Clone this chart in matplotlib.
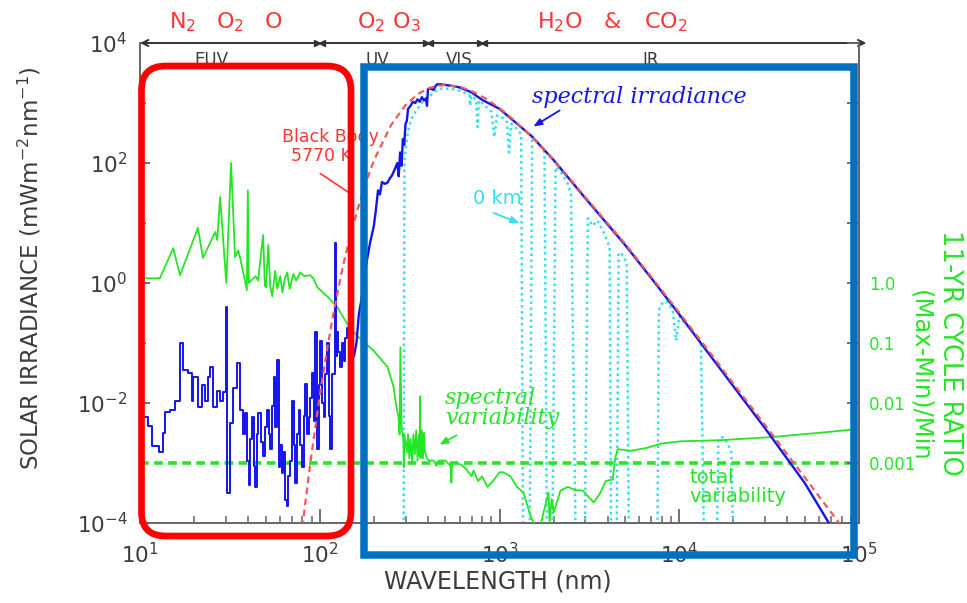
import matplotlib
matplotlib.use("Agg")
import matplotlib.pyplot as plt
from matplotlib.patches import FancyBboxPatch, Rectangle
from matplotlib.transforms import IdentityTransform
from matplotlib.ticker import FixedLocator, NullLocator, NullFormatter

W, H = 967, 603

# ---- data ------------------------------------------------------------------
# blue: measured spectral irradiance (mW m-2 nm-1), EUV part drawn as steps
euv_wl = [
    10.0, 10.4, 11.1, 11.6, 12.7, 13.5, 13.8, 14.7, 15.7, 16.7,
    17.4, 18.6, 19.4, 19.8, 21.1, 22.1, 23.0, 24.0, 24.5, 25.6,
    26.7, 27.9, 29.1, 30.1, 30.5, 31.7, 33.1, 34.6, 36.1, 37.3,
    38.5, 39.3, 40.2, 41.0, 41.9, 42.8, 43.7, 44.6, 45.6, 47.0,
    48.6, 49.7, 50.8, 52.0, 53.0, 54.1, 55.3, 56.5, 57.7, 59.0,
    60.2, 61.5, 62.8, 64.3, 65.6, 67.0, 68.5, 70.0, 71.5, 73.0,
    74.6, 76.2, 77.9, 79.6, 81.3, 83.0, 84.8, 86.7, 88.5, 90.4,
    92.4, 94.4, 96.4, 98.5, 100.7, 103, 105, 107, 110, 112,
    114, 117, 121, 122.5, 124.7, 127, 130, 133, 136, 139,
    142, 145, 148]
euv_irr = [
    0.0059, 0.0059, 0.0041, 0.0019, 0.0015, 0.0032, 0.0072, 0.0076, 0.011, 0.10,
    0.035, 0.032, 0.011, 0.027, 0.0087, 0.020, 0.011, 0.027, 0.040, 0.0087,
    0.016, 0.011, 0.015, 0.40, 0.00032, 0.0046, 0.018, 0.046, 0.0076, 0.0030,
    0.0068, 0.0011, 0.00043, 0.0025, 0.0059, 0.0009, 0.00040, 0.0030, 0.0068, 0.0022,
    0.0013, 0.0040, 0.0076, 0.0030, 0.0017, 0.0090, 0.027, 0.0040, 0.052, 0.00087,
    0.0020, 0.00068, 0.0015, 0.00024, 0.00019, 0.0006, 0.0011, 0.011, 0.0020, 0.00046,
    0.0030, 0.0076, 0.0020, 0.00087, 0.0060, 0.021, 0.0030, 0.0059, 0.012, 0.032,
    0.0050, 0.15, 0.0017, 0.020, 0.11, 0.010, 0.0059, 0.030, 0.10, 0.0060,
    0.0017, 0.030, 4.7, 0.06, 0.15, 0.07, 0.04, 0.10, 0.05, 0.12,
    0.18, 0.07, 0.10]

uvir_wl = [
    148, 155, 160, 165, 170, 180, 190, 200, 205, 211,
    216, 222, 230, 238, 245, 253, 262, 270, 275, 280,
    285, 290, 295, 300, 305, 310, 320, 330, 340, 350,
    360, 370, 380, 390, 395, 400, 410, 420, 430, 440,
    450, 470, 500, 530, 560, 600, 650, 700, 800, 1000,
    1500, 2000, 3000, 5000, 7000, 10000, 20000, 30000, 50000, 68000,
    80000]
uvir_irr = [
    0.10, 0.06, 0.10, 0.3, 0.5, 1.8, 4.5, 9, 16, 35,
    30, 48, 45, 47, 55, 63, 80, 100, 60, 150,
    90, 250, 200, 450, 500, 800, 900, 1050, 1000, 1150,
    1050, 1250, 1100, 1200, 900, 1700, 1750, 1700, 1650, 1900,
    2050, 2050, 2000, 1950, 1900, 1820, 1650, 1500, 1130, 800,
    285, 112, 26, 4.3, 1.2, 0.30, 0.019, 0.0038, 0.00046, 0.0001,
    0.00005]

# red dashed: 5770 K black body
bb_wl = [80, 85, 90, 100, 110, 120, 135, 150, 175, 200,
         250, 300, 350, 400, 450, 500, 600, 700, 850, 1000,
         1200, 1500, 2000, 3000, 5000, 7000, 10000, 15000, 20000, 30000,
         50000, 70000, 80000]
bb_irr = [8.5e-5, 3.7e-4, 1.4e-3, 1.3e-2, 0.08, 0.35, 2.0, 7.3, 36, 110,
          435, 920, 1400, 1750, 1930, 2000, 1870, 1580, 1160, 820,
          523, 281, 115, 27, 4.5, 1.26, 0.32, 0.066, 0.021, 4.3e-3,
          5.7e-4, 1.5e-4, 8.8e-5]

# cyan dotted: irradiance reaching the ground (0 km)
ground_wl = [
    292, 296, 305, 315, 330, 350, 370, 390, 420, 450,
    480, 520, 560, 600, 650, 680, 687, 695, 740, 755,
    768, 800, 900, 935, 970, 1050, 1100, 1130, 1160, 1250,
    1320, 1360, 1460, 1520, 1600, 1700, 1780, 1850, 1950, 2050,
    2200, 2400, 2500, 2700, 2950, 3100, 3300, 3500, 3800, 4100,
    4200, 4450, 4600, 4800, 5100, 5300, 7500, 7700, 8000, 8500,
    9200, 9600, 10000, 11000, 12000, 13200, 14000, 15900, 16500, 17500,
    18500, 19500, 20500]
ground_irr = [
    1e-6, 110, 250, 420, 620, 800, 1000, 1150, 1400, 1650,
    1750, 1720, 1680, 1600, 1450, 1350, 900, 1320, 1150, 400,
    1100, 1000, 720, 270, 620, 560, 480, 150, 450, 370,
    300, 1e-6, 1e-6, 280, 240, 190, 150, 1e-6, 1e-6, 85,
    70, 45, 30, 1e-6, 1e-6, 12, 9, 11, 7, 4,
    1e-6, 1e-6, 3.2, 3.0, 2.2, 1e-6, 1e-6, 0.35, 0.45, 0.50,
    0.35, 0.11, 0.28, 0.2, 0.15, 0.10, 1e-6, 1e-6, 0.0025, 0.0027,
    0.0022, 0.0015, 1e-6]

# green: 11-yr cycle ratio (Max-Min)/Min, read on the right axis
var_wl = [
    10, 12.9, 15.3, 16.7, 21.0, 22.4, 26.2, 26.9, 27.9, 30.2,
    32.1, 33.8, 35.2, 36.0, 39.3, 39.8, 40.3, 44.0, 45.4, 48.4,
    49.5, 50.3, 51.7, 53.0, 54.4, 56.5, 58.0, 60.3, 62.0, 64.0,
    65.9, 68.0, 71.2, 74.0, 77.8, 82.0, 88.5, 92.0, 96.9, 110,
    125, 142, 162, 199, 238, 257, 268, 274, 278, 281,
    285, 292, 294, 296, 305, 310, 315, 320, 326, 332,
    338, 344, 350, 356, 360, 362, 364, 370, 375, 380,
    385, 395, 405, 413, 430, 445, 460, 500, 534, 540,
    545, 560, 607, 650, 700, 717, 760, 800, 857, 920,
    1000, 1050, 1151, 1250, 1361, 1489, 1600, 1700, 1800, 1874,
    1900, 1950, 2000, 2187, 2400, 2651, 2900, 3339, 3600, 3898,
    4266, 4400, 4543, 5370, 6680, 7890, 10190, 17000, 32300, 61300,
    100000]
var_ratio = [
    1.2, 1.2, 3.8, 1.35, 8.3, 2.6, 7.1, 5.2, 27, 1.0,
    100, 2.7, 3.5, 2.7, 0.76, 35, 1.0, 1.3, 1.1, 6.3,
    0.9, 0.85, 4.3, 0.9, 0.6, 1.6, 0.8, 1.3, 0.7, 1.2,
    1.5, 0.8, 1.4, 1.1, 1.5, 1.3, 1.35, 1.2, 0.85, 0.6,
    0.4, 0.21, 0.13, 0.075, 0.04, 0.019, 0.008, 0.006, 0.003, 0.085,
    0.004, 0.0024, 0.00085, 0.003, 0.0015, 0.003, 0.0012, 0.0025, 0.001, 0.003,
    0.0014, 0.0035, 0.0011, 0.003, 0.0013, 0.013, 0.0012, 0.0035, 0.0012, 0.0032,
    0.0015, 0.0012, 0.0011, 0.0011, 0.0011, 0.0009, 0.0011, 0.0011, 0.0009, 0.00047,
    0.001, 0.001, 0.00095, 0.0008, 0.0006, 0.00075, 0.0005, 0.0006, 0.0004, 0.0005,
    0.0007, 0.0007, 0.0006, 0.0004, 0.00032, 0.00013, 0.00008, 0.0001, 0.0002, 0.00032,
    0.0001, 0.00025, 0.00015, 0.00035, 0.0004, 0.00035, 0.00035, 0.00022, 0.0003, 0.0005,
    0.00053, 0.0012, 0.0017, 0.0016, 0.0018, 0.0021, 0.0023, 0.0024, 0.0027, 0.0032,
    0.0037]
total_variability = 1e-3

region_edges = [100, 400, 800]
x_ticks = [1e1, 1e2, 1e3, 1e4, 1e5]
x_labels = [r"$10^{1}$", r"$10^{2}$", r"$10^{3}$", r"$10^{4}$", r"$10^{5}$"]
y_ticks = [1e-4, 1e-2, 1e0, 1e2, 1e4]
y_labels = [r"$10^{-4}$", r"$10^{-2}$", r"$10^{0}$", r"$10^{2}$", r"$10^{4}$"]
ratio_ticks = [1e-4, 1e-3, 1e-2, 1e-1, 1e0, 1e1, 1e2, 1e3, 1e4]
ratio_labels = ["", "0.001", "0.01", "0.1", "1.0", "", "", "", ""]

BLUE = "#1414EE"
RED_BB = "#F25A5A"
GREEN = "#25E625"
CYAN = "#33E0F2"
RED_TXT = "#FF3535"
GRAY = "#3c3c3c"
SPINE = "#666666"


def P(x, y):
    """reference-image pixel -> figure pixels (origin bottom-left)"""
    return (x, H - y)


fig = plt.figure(figsize=(W / 100, H / 100), dpi=100)
ax = fig.add_axes([140 / W, 1 - 523 / H, (859 - 140) / W, (523 - 43) / H])
ax.set_xscale("log")
ax.set_yscale("log")

ax.plot(ground_wl, ground_irr, color=CYAN, ls=(0, (1, 1.4)), lw=1.8, zorder=2)
ax.plot(var_wl, var_ratio, color=GREEN, lw=1.3, zorder=3)
ax.axhline(total_variability, color=GREEN, ls=(0, (2.4, 1.5)), lw=2.6, zorder=3)
ax.step(euv_wl, euv_irr, where="post", color=BLUE, lw=1.4, zorder=4)
ax.plot(uvir_wl, uvir_irr, color=BLUE, lw=1.7, zorder=4)
ax.plot(bb_wl, bb_irr, color=RED_BB, ls=(0, (3, 2)), lw=1.6, zorder=5)

ax.set_xlim(10, 1e5)
ax.set_ylim(1e-4, 1e4)
ax.spines["top"].set_visible(False)
for s in ("left", "bottom", "right"):
    ax.spines[s].set_color(SPINE)
    ax.spines[s].set_linewidth(1.4)

ax.set_xticks(x_ticks)
ax.set_xticklabels(x_labels)
ax.xaxis.set_minor_formatter(NullFormatter())
ax.set_yticks(y_ticks)
ax.set_yticklabels(y_labels)
ax.yaxis.set_minor_locator(FixedLocator([1e-3, 1e-1, 1e1, 1e3]))
ax.yaxis.set_minor_formatter(NullFormatter())
ax.tick_params(which="both", direction="in", colors=SPINE, labelcolor=GRAY,
               labelsize=15.5, right=False, top=False)
ax.tick_params(axis="x", which="major", length=10, width=1.3, pad=14)
ax.tick_params(axis="x", which="minor", length=5, width=1.1)
ax.tick_params(axis="y", which="major", length=7, width=1.3, pad=9)
ax.tick_params(axis="y", which="minor", length=4, width=1.1)

ax2 = ax.twinx()
ax2.set_yscale("log")
ax2.set_ylim(1e-4, 1e4)
ax2.set_yticks(ratio_ticks)
ax2.set_yticklabels(ratio_labels)
ax2.yaxis.set_minor_locator(NullLocator())
for s in ("left", "bottom", "top"):
    ax2.spines[s].set_visible(False)
ax2.spines["right"].set_color(SPINE)
ax2.spines["right"].set_linewidth(1.4)
ax2.tick_params(axis="y", direction="in", length=9, width=1.3, colors=SPINE,
                labelcolor=GREEN, labelsize=12, pad=7)

# top arrow with the spectral regions
ax.annotate("", xy=(1.1e5, 1e4), xytext=(10, 1e4),
            arrowprops=dict(arrowstyle="<->,head_length=0.45,head_width=0.22",
                            color="#333333", lw=1.4, shrinkA=0, shrinkB=0),
            annotation_clip=False, zorder=6)
for b in region_edges:
    ax.plot([b / 1.03], [1e4], marker=">", ms=4.5, color="#333333", clip_on=False, zorder=6)
    ax.plot([b * 1.03], [1e4], marker="<", ms=4.5, color="#333333", clip_on=False, zorder=6)

for txt, x in [("EUV", 211), ("UV", 377), ("VIS", 459), ("IR", 651)]:
    fig.text(x / W, 1 - 65 / H, txt, ha="center", va="baseline", fontsize=12, color=GRAY)
for txt, x in [(r"N$_2$", 183), (r"O$_2$", 230), ("O", 274), (r"O$_2$ O$_3$", 389),
               (r"H$_2$O", 560), ("&", 612), (r"CO$_2$", 666)]:
    fig.text(x / W, 1 - 28 / H, txt, ha="center", va="baseline", fontsize=16, color=RED_TXT)

# axis titles
fig.text(30 / W, 1 - 268 / H, "SOLAR IRRADIANCE (mWm$^{-2}$nm$^{-1}$)", rotation=90,
         ha="center", va="center", fontsize=16.5, color=GRAY)
fig.text(498 / W, 1 - 581 / H, "WAVELENGTH (nm)", ha="center", va="center",
         fontsize=17, color=GRAY)
fig.text(950 / W, 1 - 353 / H, "11-YR CYCLE RATIO", rotation=270, ha="center",
         va="center", fontsize=18.5, color=GREEN)
fig.text(920 / W, 1 - 376 / H, "(Max-Min)/Min", rotation=270, ha="center",
         va="center", fontsize=17.5, color=GREEN)

# in-plot annotations
ax.annotate("Black Body", xy=P(330, 137), xycoords="figure pixels", ha="center",
            va="center", fontsize=12.5, color=RED_TXT, zorder=7)
ax.annotate("5770 K", xy=P(321, 156), xycoords="figure pixels", ha="center",
            va="center", fontsize=12.5, color=RED_TXT, zorder=7)
ax.annotate("", xy=P(354, 196), xytext=P(318, 172), xycoords="figure pixels",
            textcoords="figure pixels",
            arrowprops=dict(arrowstyle="-", color=RED_TXT, lw=1.2))

ax.annotate("spectral irradiance", xy=P(532, 97), xycoords="figure pixels", ha="left",
            va="center", fontsize=16, color=BLUE, family="DejaVu Serif", style="italic")
ax.annotate("", xy=P(531, 128), xytext=P(562, 109), xycoords="figure pixels",
            textcoords="figure pixels",
            arrowprops=dict(arrowstyle="-|>,head_length=0.5,head_width=0.2", color=BLUE, lw=1.3))

ax.annotate("0 km", xy=P(497, 198), xycoords="figure pixels", ha="center",
            va="center", fontsize=14, color=CYAN)
ax.annotate("", xy=P(522, 224), xytext=P(491, 212), xycoords="figure pixels",
            textcoords="figure pixels",
            arrowprops=dict(arrowstyle="-|>,head_length=0.5,head_width=0.2", color=CYAN, lw=1.3))

ax.annotate("spectral\nvariability", xy=P(445, 408), xycoords="figure pixels", ha="left",
            va="center", fontsize=16, color=GREEN, family="DejaVu Serif", style="italic",
            linespacing=0.9)
ax.annotate("", xy=P(437, 446), xytext=P(459, 434), xycoords="figure pixels",
            textcoords="figure pixels",
            arrowprops=dict(arrowstyle="-|>,head_length=0.5,head_width=0.2", color=GREEN, lw=1.3))

ax.annotate("total\nvariability", xy=P(689, 487), xycoords="figure pixels", ha="left",
            va="center", fontsize=14, color=GREEN, linespacing=1.05)

# highlight boxes drawn over the figure
red_box = FancyBboxPatch(P(141.5, 536), 209.5, 470,
                         boxstyle="round,pad=0,rounding_size=24",
                         transform=IdentityTransform(), fill=False,
                         ec="#FF0000", lw=4.8, zorder=20)
blue_box = Rectangle(P(363.5, 555), 490.5, 488, transform=IdentityTransform(),
                     fill=False, ec="#0070C0", lw=5.4, joinstyle="miter", zorder=20)
fig.add_artist(red_box)
fig.add_artist(blue_box)

fig.savefig("out.png", dpi=100)
